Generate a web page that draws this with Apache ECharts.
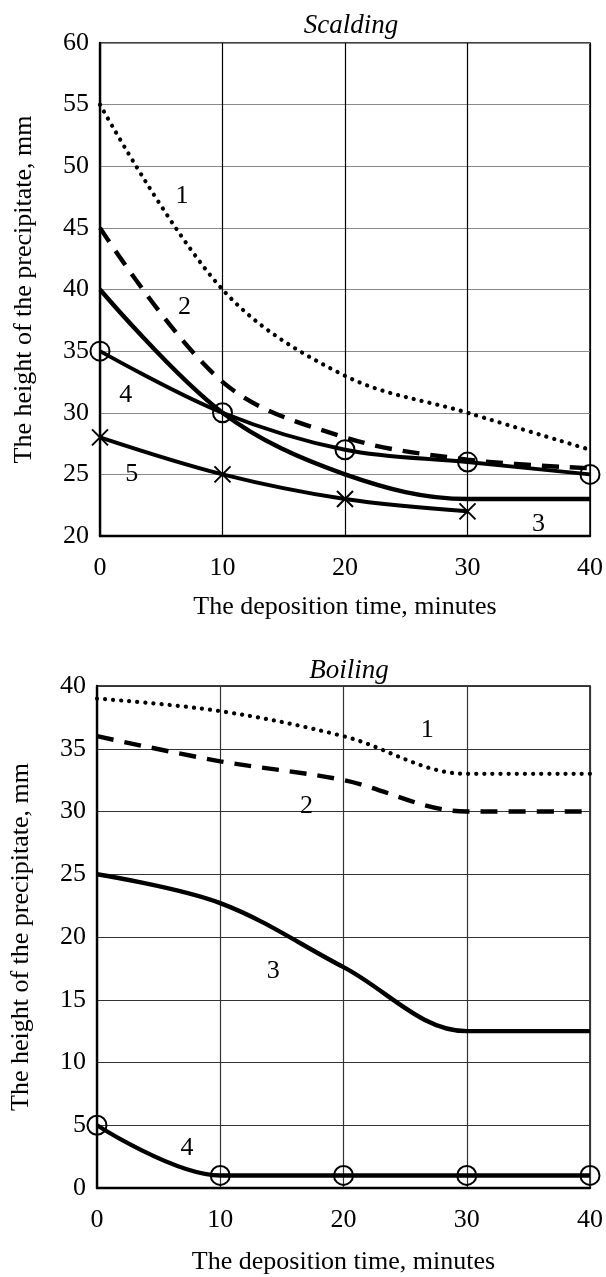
<!DOCTYPE html>
<html>
<head>
<meta charset="utf-8">
<script src="https://cdn.jsdelivr.net/npm/echarts@6/dist/echarts.min.js"></script>
<style>
html,body{margin:0;padding:0;background:#fff;}
#c{width:606px;height:1277px;}
</style>
</head>
<body>
<div id="c"></div>
<script>
// ---- data ----
const times = [0, 10, 20, 30, 40];

// Scalding (top chart)
const scald1 = [55, 40, 33, 30, 27];
const scald2 = [45, 32.5, 28, 26.2, 25.5];
const scald3 = [40, 30, 25, 23, 23];
const scald4 = [35, 30, 27, 26, 25];
const scald5 = [28, 25, 23, 22];
const scaldLabels = [
  {name: '1', x: 6.7, y: 47.6},
  {name: '2', x: 6.9, y: 38.6},
  {name: '3', x: 35.8, y: 21.0},
  {name: '4', x: 2.1, y: 31.4},
  {name: '5', x: 2.6, y: 25.0}
];

// Boiling (bottom chart)
const boil1 = [39, 38, 36, 33, 33];
const boil2 = [36, 34, 32.5, 30, 30];
const boil3 = [25, 22.7, 17.6, 12.5, 12.5];
const boil4 = [5, 1, 1, 1, 1];
const boilLabels = [
  {name: '1', x: 26.8, y: 36.5},
  {name: '2', x: 17.0, y: 30.4},
  {name: '3', x: 14.3, y: 17.3},
  {name: '4', x: 7.3, y: 3.2}
];

const yTitle = 'The height of the precipitate, mm';
const xTitle = 'The deposition time, minutes';

// ---- chart ----
const FONT = "'Liberation Serif', 'Times New Roman', serif";
const FS = 26;
const pairs = (ys) => ys.map((v, i) => [times[i], v]);
const crossPath = 'path://M0,0L10,10M10,0L0,10';

function lineSeries(idx, ys, style) {
  return {
    type: 'line', xAxisIndex: idx, yAxisIndex: idx,
    data: pairs(ys), smooth: 0.35, symbol: 'none',
    lineStyle: Object.assign({color: '#000', width: 4.4, opacity: 1}, style),
    silent: true, animation: false, z: 3
  };
}
function markerSeries(idx, ys, symbol, size) {
  return {
    type: 'scatter', xAxisIndex: idx, yAxisIndex: idx,
    data: pairs(ys), symbol: symbol, symbolSize: size,
    itemStyle: {color: 'rgba(255,255,255,0)', borderColor: '#000', borderWidth: 2, opacity: 1},
    silent: true, animation: false, z: 5
  };
}
function labelSeries(idx, labels) {
  return {
    type: 'scatter', xAxisIndex: idx, yAxisIndex: idx,
    data: labels.map(l => ({name: l.name, value: [l.x, l.y]})),
    symbolSize: 0,
    itemStyle: {opacity: 1, color: '#000'},
    label: {show: true, position: 'inside', formatter: '{b}', color: '#000',
            fontFamily: FONT, fontSize: FS, opacity: 1},
    silent: true, animation: false, z: 6
  };
}
const dotted = {type: [0.1, 8], cap: 'round', width: 4.2};
const dashed = {type: [17, 11], cap: 'butt', width: 4.4};

function xAxisCfg(idx, gap, gridColor) {
  return {
    type: 'value', gridIndex: idx, min: 0, max: 40, interval: 10,
    name: xTitle, nameLocation: 'middle', nameGap: gap,
    nameTextStyle: {fontFamily: FONT, fontSize: FS, color: '#000'},
    axisLine: {show: true, onZero: false, lineStyle: {color: '#000', width: 2.4}},
    axisTick: {show: false},
    axisLabel: {fontFamily: FONT, fontSize: FS, color: '#000', margin: 19},
    splitLine: {show: true, lineStyle: {color: gridColor, width: 1.2}}
  };
}
function yAxisCfg(idx, min, max, gridColor) {
  return {
    type: 'value', gridIndex: idx, min: min, max: max, interval: 5,
    name: yTitle, nameLocation: 'middle', nameGap: 63,
    nameTextStyle: {fontFamily: FONT, fontSize: FS, color: '#000'},
    axisLine: {show: true, onZero: false, lineStyle: {color: '#000', width: 2.4}},
    axisTick: {show: false},
    axisLabel: {fontFamily: FONT, fontSize: FS, color: '#000', margin: 11},
    splitLine: {show: true, lineStyle: {color: gridColor, width: 1.2}}
  };
}

const chart = echarts.init(document.getElementById('c'), null, {renderer: 'canvas'});
chart.setOption({
  backgroundColor: '#fff',
  animation: false,
  title: [
    {text: 'Scalding', left: 346, top: 7, textAlign: 'center',
     textStyle: {fontFamily: FONT, fontSize: 27, fontStyle: 'italic', fontWeight: 'normal', color: '#000'}},
    {text: 'Boiling', left: 344, top: 652, textAlign: 'center',
     textStyle: {fontFamily: FONT, fontSize: 27, fontStyle: 'italic', fontWeight: 'normal', color: '#000'}}
  ],
  grid: [
    {left: 100, top: 43, width: 493, height: 493, show: true, borderColor: '#000', borderWidth: 1.5, backgroundColor: 'transparent'},
    {left: 96, top: 686, width: 497, height: 502, show: true, borderColor: '#000', borderWidth: 1.5, backgroundColor: 'transparent'}
  ],
  xAxis: [xAxisCfg(0, 58, '#000'), xAxisCfg(1, 61, '#333')],
  yAxis: [yAxisCfg(0, 20, 60, '#8a8a8a'), yAxisCfg(1, 0, 40, '#333')],
  series: [
    lineSeries(0, scald1, dotted),
    lineSeries(0, scald2, dashed),
    lineSeries(0, scald3, {}),
    lineSeries(0, scald4, {width: 4}),
    lineSeries(0, scald5, {width: 4}),
    markerSeries(0, scald4, 'circle', 19),
    markerSeries(0, scald5, crossPath, 16),
    labelSeries(0, scaldLabels),

    lineSeries(1, boil1, dotted),
    lineSeries(1, boil2, dashed),
    lineSeries(1, boil3, {}),
    lineSeries(1, boil4, {}),
    markerSeries(1, boil4, 'circle', 19),
    labelSeries(1, boilLabels)
  ]
});
</script>
</body>
</html>
